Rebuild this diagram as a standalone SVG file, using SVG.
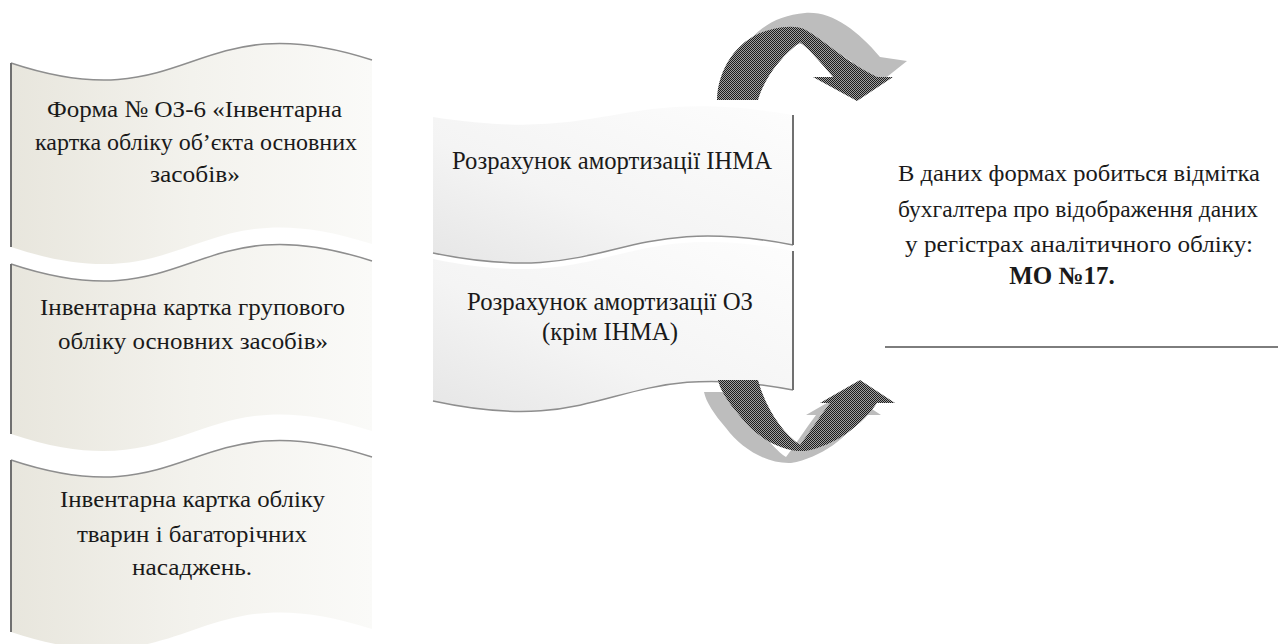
<svg xmlns="http://www.w3.org/2000/svg" width="1278" height="644" viewBox="0 0 1278 644">
<defs>
<linearGradient id="gLeft" x1="0" y1="0" x2="1" y2="0">
<stop offset="0" stop-color="#e8e6dd"/><stop offset="0.5" stop-color="#f3f2ed"/><stop offset="1" stop-color="#fafaf8"/>
</linearGradient>
<linearGradient id="gMid" x1="1" y1="0" x2="0" y2="1">
<stop offset="0" stop-color="#fdfdfd"/><stop offset="0.6" stop-color="#f4f4f4"/><stop offset="1" stop-color="#e6e6e6"/>
</linearGradient>
<pattern id="dots" width="2" height="2" patternUnits="userSpaceOnUse">
<rect width="2" height="2" fill="#a0a0a0"/><rect width="1" height="1" fill="#1c1c1c"/><rect x="1" y="1" width="1" height="1" fill="#1c1c1c"/>
</pattern>
<style>
.leftShape{fill:url(#gLeft);}
.midShape{fill:url(#gMid);}
.edgeDark{fill:none;stroke:#707070;stroke-width:2;}
.edgeLight{fill:none;stroke:#8e8e8e;stroke-width:1.5;}
.txt{font-family:"Liberation Serif","DejaVu Serif",serif;fill:#1a1a1a;text-anchor:middle;}
.t24{font-size:24px;}
.t25{font-size:25px;}
.arrow{fill:url(#dots);}
.shadow{fill:#bdbdbd;}
</style>
</defs>
<g id="connectors">
<g id="arrow-top">
<path class="shadow" d="M 733,80 C 738,42 766,16 805,13 C 832,11 857,30 880,57 L 907,61 L 873,88 L 845,64 L 852,62 C 836,50 816,44 800,44 C 780,46 765,60 755,80 Z"/>
<path class="arrow" d="M 717,100 C 718,66 740,36 773,29 C 786,26 796,26 804,29 C 824,40 846,62 877,77 L 893,77 L 857,101 L 813,77 L 833,77 C 822,64 812,52 800,42 C 783,55 765,76 758,100 Z"/>
</g>
<g id="arrow-bottom">
<path class="shadow" transform="translate(-14,12)" d="M 718,380 L 758,380 C 766,410 784,434 800,445 C 810,432 820,416 830,403 L 820,403 L 860,380 L 895,403 L 877,403 C 862,425 835,446 805,451 C 780,452 755,436 740,416 C 728,402 720,390 718,380 Z"/>
</g>
<line x1="885" y1="347" x2="1278" y2="347" stroke="#7d7d7d" stroke-width="2"/>
</g>
<g id="node-forma">
<path class="leftShape" d="M 11,63 C 191,123 191,1 372,60 L 372,244 C 191,185 191,307 11,247 Z"/>
<path class="edgeLight" d="M 11,63 C 191,123 191,1 372,60"/>
<line class="edgeDark" x1="11" y1="63" x2="11" y2="247"/>
<text class="txt t24" x="194.5" y="117" textLength="295" lengthAdjust="spacingAndGlyphs">Форма № ОЗ-6 «Інвентарна</text>
<text class="txt t24" x="196" y="150" textLength="322" lengthAdjust="spacingAndGlyphs">картка обліку об’єкта основних</text>
<text class="txt t24" x="195" y="182" textLength="90" lengthAdjust="spacingAndGlyphs">засобів»</text>
</g>
<g id="node-grupova">
<path class="leftShape" d="M 11,264 C 191,324 191,202 372,261 L 372,431 C 191,372 191,494 11,434 Z"/>
<path class="edgeLight" d="M 11,264 C 191,324 191,202 372,261"/>
<line class="edgeDark" x1="11" y1="264" x2="11" y2="434"/>
<text class="txt t24" x="192.5" y="315" textLength="305" lengthAdjust="spacingAndGlyphs">Інвентарна картка групового</text>
<text class="txt t24" x="193" y="349" textLength="270" lengthAdjust="spacingAndGlyphs">обліку основних засобів»</text>
</g>
<g id="node-tvaryny">
<path class="leftShape" d="M 11,460 C 191,520 191,398 372,457 L 372,629 C 191,570 191,692 11,632 Z"/>
<path class="edgeLight" d="M 11,460 C 191,520 191,398 372,457"/>
<line class="edgeDark" x1="11" y1="460" x2="11" y2="632"/>
<text class="txt t24" x="192.5" y="507" textLength="265" lengthAdjust="spacingAndGlyphs">Інвентарна картка обліку</text>
<text class="txt t24" x="192" y="542" textLength="230" lengthAdjust="spacingAndGlyphs">тварин і багаторічних</text>
<text class="txt t24" x="192" y="575" textLength="120" lengthAdjust="spacingAndGlyphs">насаджень.</text>
</g>
<g id="node-inma">
<path class="midShape" d="M 433,117 C 613,145 613,85 793,115 L 793,245 C 613,210 613,290 433,253 Z"/>
<path class="edgeLight" d="M 433,253 C 613,290 613,210 793,245"/>
<line class="edgeDark" x1="793" y1="115" x2="793" y2="245"/>
<text class="txt t25" x="612" y="169" textLength="320" lengthAdjust="spacingAndGlyphs">Розрахунок амортизації ІНМА</text>
</g>
<g id="node-oz">
<path class="midShape" d="M 433,259 C 613,296 613,216 793,251 L 793,390 C 613,355 613,440 433,401 Z"/>
<path class="edgeLight" d="M 433,401 C 613,440 613,355 793,390"/>
<line class="edgeDark" x1="793" y1="251" x2="793" y2="390"/>
<text class="txt t25" x="610" y="310" textLength="286" lengthAdjust="spacingAndGlyphs">Розрахунок амортизації ОЗ</text>
<text class="txt t25" x="610" y="340" textLength="136" lengthAdjust="spacingAndGlyphs">(крім ІНМА)</text>
</g>
<g id="arrow-bottom-front">
<path class="arrow" d="M 718,380 L 758,380 C 766,410 784,434 800,445 C 810,432 820,416 830,403 L 820,403 L 860,380 L 895,403 L 877,403 C 862,425 835,446 805,451 C 780,452 755,436 740,416 C 728,402 720,390 718,380 Z"/>
</g>
<g id="node-note">
<text class="txt t24" x="1079" y="181" textLength="362" lengthAdjust="spacingAndGlyphs">В даних формах робиться відмітка</text>
<text class="txt t24" x="1078" y="217" textLength="360" lengthAdjust="spacingAndGlyphs">бухгалтера про відображення даних</text>
<text class="txt t24" x="1079" y="252" textLength="348" lengthAdjust="spacingAndGlyphs">у регістрах аналітичного обліку:</text>
<text class="txt t25" x="1062" y="284" font-weight="bold">МО №17.</text>
</g>
</svg>
